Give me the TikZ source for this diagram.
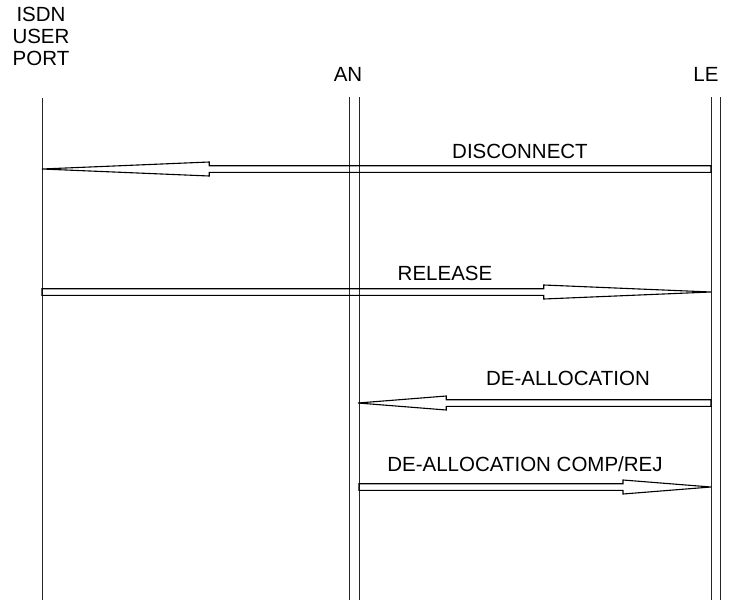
\documentclass[tikz,border=0pt]{standalone}
\usepackage{fontspec}
\setmainfont{Liberation Sans}
\usetikzlibrary{calc}
\tikzset{
  cab/.style={font=\fontsize{20.5}{22}\selectfont,align=center,inner sep=0pt,anchor=base},
  etiq/.style={font=\fontsize{20.5}{22}\selectfont,inner sep=0pt,anchor=base},
  vida/.style={draw=black!85,line width=1pt},
  flecha/.style={draw=black,line width=1.1pt,line join=miter},
}
% flecha hueca: origen, destino (cabeza = 25% del largo)
\newcommand\mensaje[2]{%
  \draw[flecha] ($(#1)+(0,3.3)$) -- ($(#1)!.75!(#2)+(0,3.3)$) -- ($(#1)!.75!(#2)+(0,7)$)
    -- (#2) -- ($(#1)!.75!(#2)+(0,-7)$) -- ($(#1)!.75!(#2)+(0,-3.3)$) -- ($(#1)+(0,-3.3)$) -- cycle;}

\begin{document}
\begin{tikzpicture}[x=1pt,y=-1pt]
  \useasboundingbox (0,0) rectangle (731,600);
  % cabeceras
  \node[cab] (isdn) at (41,65) {ISDN\\USER\\PORT};
  \node[cab] (an) at (348,81) {AN};
  \node[cab] (le) at (706,81) {LE};
  % lineas de vida
  \draw[vida] (42,98) -- (42,600);
  \draw[vida] (349,97) -- (349,600);
  \draw[vida] (359,97) -- (359,600);
  \draw[vida] (711,97) -- (711,600);
  \draw[vida] (720,97) -- (720,600);
  % extremos de los mensajes
  \coordinate (dcLE) at (711,169);   \coordinate (dcU) at (42,169);
  \coordinate (rlU) at (42,292);     \coordinate (rlLE) at (711,292);
  \coordinate (daLE) at (711,403);   \coordinate (daAN) at (358,403);
  \coordinate (dcrAN) at (359,487);  \coordinate (dcrLE) at (711,487);
  \mensaje{dcLE}{dcU}
  \mensaje{rlU}{rlLE}
  \mensaje{daLE}{daAN}
  \mensaje{dcrAN}{dcrLE}
  \node[etiq] (tdc) at (520,158) {DISCONNECT};
  \node[etiq] (trl) at (445,280) {RELEASE};
  \node[etiq] (tda) at (568,385) {DE-ALLOCATION};
  \node[etiq] (tdcr) at (525,471) {DE-ALLOCATION COMP/REJ};
\end{tikzpicture}
\end{document}
